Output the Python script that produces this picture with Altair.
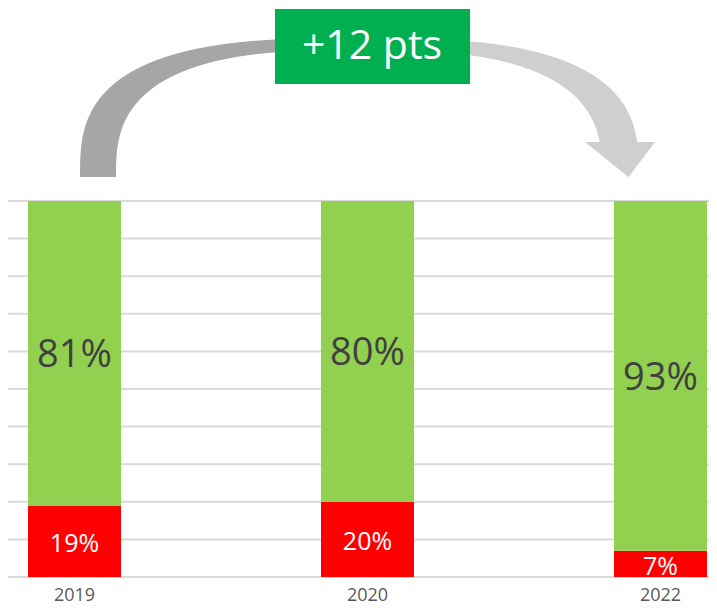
import altair as alt
import numpy as np
import pandas as pd

# ---- data ----
years = ["2019", "2020", "2022"]
positive = [81, 80, 93]      # green share (%)
negative = [19, 20, 7]       # red share (%)
grid_values = [0, 10, 20, 30, 40, 50, 60, 70, 80, 90, 100]
change_label = "+12 pts"

rows = []
for yr, p, n in zip(years, positive, negative):
    rows.append({"year": yr, "status": "neg", "value": n, "order": 0, "label": f"{n}%"})
    rows.append({"year": yr, "status": "pos", "value": p, "order": 1, "label": f"{p}%"})
df = pd.DataFrame(rows)

FONT = "Open Sans"
W, H = 701, 569
YMAX = 100 * H / 376.0

xscale = alt.Scale(paddingInner=0.6826, paddingOuter=0.03754, align=0.909)
yscale = alt.Scale(domain=[0, YMAX], nice=False, zero=True)
x_enc = alt.X("year:N", scale=xscale, title=None,
              axis=alt.Axis(domain=False, ticks=False, tickSize=0, grid=False,
                            labelFont=FONT, labelFontSize=18, labelColor="#595959",
                            labelPadding=9, labelAngle=0))

base = alt.Chart(df).transform_stack(
    stack="value", groupby=["year"], as_=["y0", "y1"],
    sort=[alt.SortField("order", order="ascending")]
).transform_calculate(mid="(datum.y0 + datum.y1) / 2")

grid = alt.Chart(pd.DataFrame({"v": grid_values})).mark_rule(
    color="#d9d9d9", strokeWidth=2
).encode(y=alt.Y("v:Q", scale=yscale, axis=None))

bars = base.mark_bar().encode(
    x=x_enc,
    y=alt.Y("y0:Q", scale=yscale, axis=None),
    y2="y1:Q",
    color=alt.Color("status:N", scale=alt.Scale(domain=["neg", "pos"],
                                                range=["#ff0000", "#92d050"]),
                    legend=None),
)

txt_pos = base.transform_filter("datum.status == 'pos'").mark_text(
    font=FONT, fontSize=38, color="#404040", baseline="middle", dy=3
).encode(x=x_enc, y=alt.Y("mid:Q", scale=yscale, axis=None), text="label:N")

txt_neg = base.transform_filter("datum.status == 'neg'").mark_text(
    font=FONT, fontSize=25, color="#ffffff", baseline="middle", dy=3
).encode(x=x_enc, y=alt.Y("mid:Q", scale=yscale, axis=None), text="label:N")

bar_layer = alt.layer(grid, bars, txt_pos, txt_neg)

# ---- decorative curved arrow (page-pixel coordinates) ----
cy = 177.0
outer = dict(cx=359.5, a=279.5, b=139.0, n=2.9)
inner = dict(cx=359.0, a=243.0, b=127.0, n=2.8)
y_cut = 142.0


def sup_y(x, p):
    t = np.clip(np.abs((x - p["cx"]) / p["a"]), 0, 1)
    return cy - p["b"] * (1 - t ** p["n"]) ** (1 / p["n"])


def sup_x_at(y, p, side):
    t = ((cy - y) / p["b"]) ** p["n"]
    return p["cx"] + side * p["a"] * (1 - t) ** (1 / p["n"])


def param_x(p):
    th = np.linspace(0, np.pi, 500)
    c = np.cos(th)
    return p["cx"] - np.sign(c) * np.abs(c) ** (2 / p["n"]) * p["a"]


x_start = outer["cx"] - outer["a"]
xo_end = sup_x_at(y_cut, outer, 1)
xi_start = inner["cx"] - inner["a"]
xi_end = sup_x_at(y_cut, inner, 1)
split = 365.0
xs = np.concatenate([param_x(outer), param_x(inner),
                     [x_start, xo_end, xi_start, xi_end, split]])
xs = np.unique(np.round(xs[(xs >= x_start) & (xs <= xo_end)], 3))
top = sup_y(xs, outer)
bottom = np.where(xs < xi_start, cy, np.where(xs > xi_end, y_cut, sup_y(xs, inner)))
arc = pd.DataFrame({"x": xs, "y": top, "y2": bottom})
arc_left = arc[arc.x <= split]
arc_right = arc[arc.x >= split]
head = pd.DataFrame({"x": [585.0, 628.5, 655.0], "y": [142.0, 142.0, 142.0],
                     "y2": [142.0, 177.0, 142.0]})
box = pd.DataFrame({"x": [275.0], "x2": [470.0], "y": [9.0], "y2": [84.0],
                    "tx": [372.0], "ty": [47.0], "t": [change_label]})

px = alt.Scale(domain=[8, 8 + W], nice=False, zero=False)
py = alt.Scale(domain=[8, 8 + H], nice=False, zero=False, reverse=True)


def area_layer(d, col):
    return alt.Chart(d).mark_area(color=col, interpolate="linear").encode(
        x=alt.X("x:Q", scale=px, axis=None),
        y=alt.Y("y:Q", scale=py, axis=None),
        y2="y2:Q",
    )


box_rect = alt.Chart(box).mark_rect(color="#00b050").encode(
    x=alt.X("x:Q", scale=px, axis=None), x2="x2:Q",
    y=alt.Y("y:Q", scale=py, axis=None), y2="y2:Q",
)
box_text = alt.Chart(box).mark_text(
    font=FONT, fontSize=41, color="#ffffff", baseline="middle", align="center"
).encode(
    x=alt.X("tx:Q", scale=px, axis=None),
    y=alt.Y("ty:Q", scale=py, axis=None),
    text="t:N",
)

decor_layer = alt.layer(area_layer(arc_left, "#a6a6a6"),
                        area_layer(arc_right, "#d0cece"),
                        area_layer(head, "#d0cece"),
                        box_rect, box_text)

chart = alt.layer(bar_layer, decor_layer).resolve_scale(
    x="independent", y="independent"
).properties(
    width=W, height=H,
    padding={"left": 0, "top": 0, "right": 0, "bottom": 30},
    autosize=alt.AutoSizeParams(type="none"),
).configure_view(stroke=None)

chart.save("out.html", embed_options={"renderer": "svg", "actions": False})
